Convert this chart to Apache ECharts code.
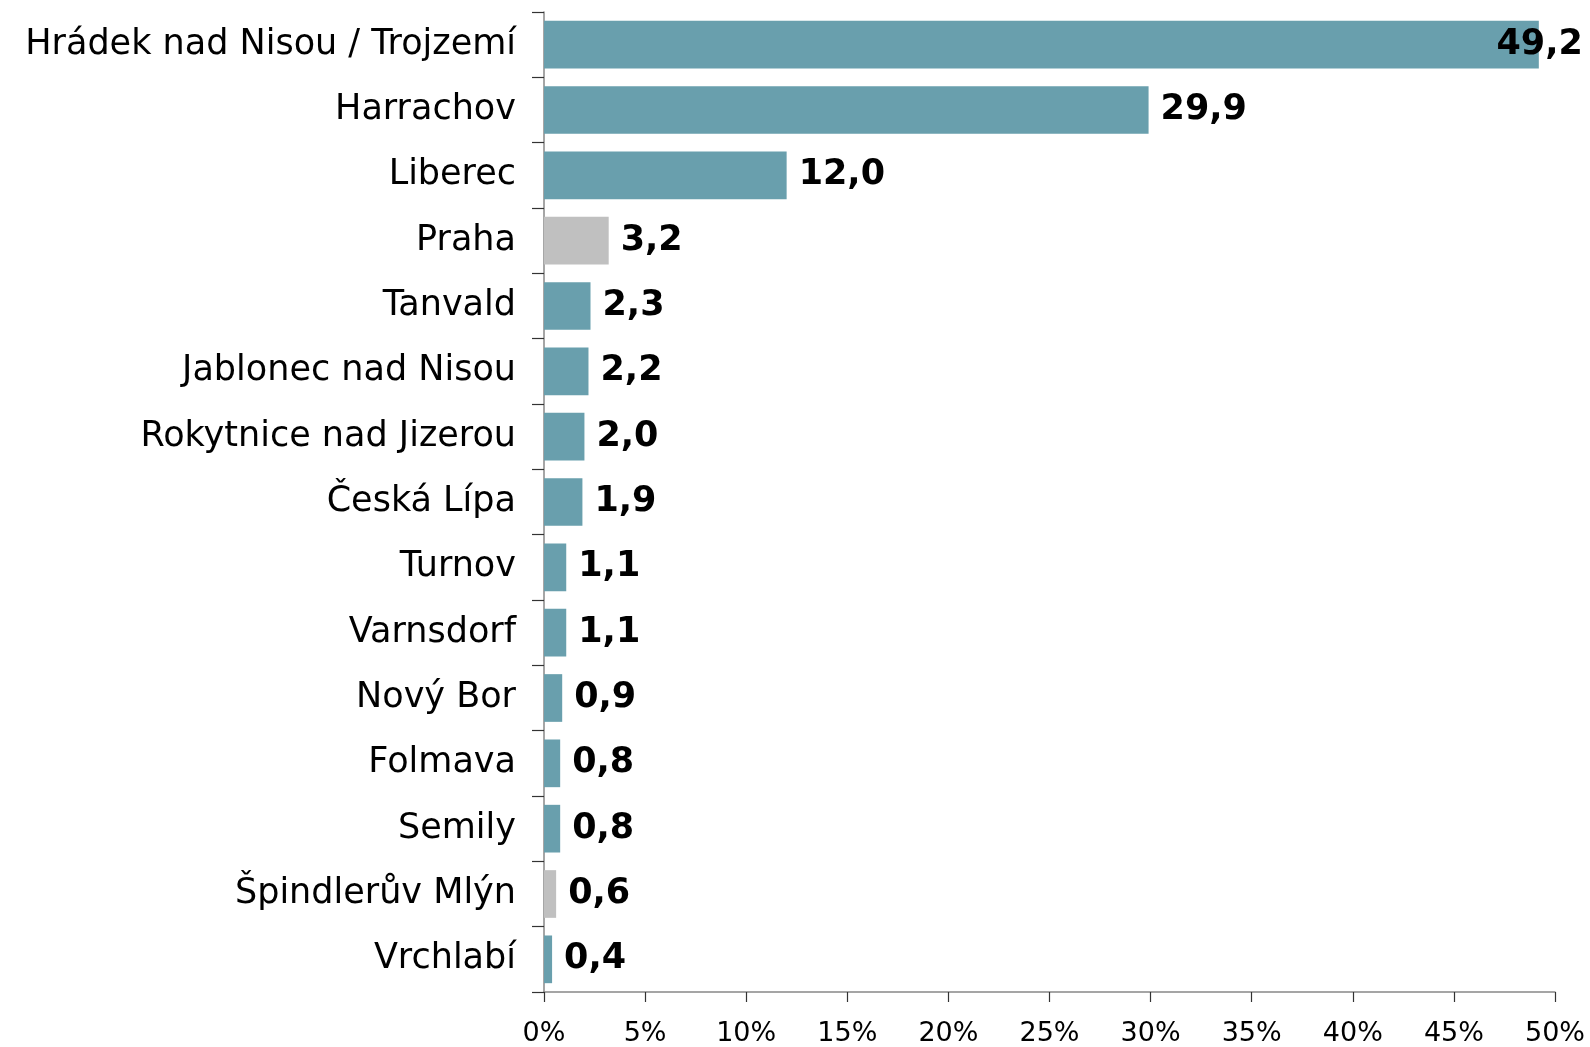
<!DOCTYPE html>
<html>
<head>
<meta charset="utf-8">
<script src="https://cdn.jsdelivr.net/npm/echarts@6/dist/echarts.min.js"></script>
<style>
  html, body { margin: 0; padding: 0; background: #fff; }
  #chart { width: 1590px; height: 1047px; }
</style>
</head>
<body>
<div id="chart"></div>
<script>
// Places, top to bottom
const places = [
  'Hrádek nad Nisou / Trojzemí', 'Harrachov', 'Liberec', 'Praha', 'Tanvald',
  'Jablonec nad Nisou', 'Rokytnice nad Jizerou', 'Česká Lípa', 'Turnov',
  'Varnsdorf', 'Nový Bor', 'Folmava', 'Semily', 'Špindlerův Mlýn', 'Vrchlabí'
];
// Share in percent
const shares = [49.2, 29.9, 12.0, 3.2, 2.3, 2.2, 2.0, 1.9, 1.1, 1.1, 0.9, 0.8, 0.8, 0.6, 0.4];
// Places outside the region, drawn in grey
const outsideRegion = ['Praha', 'Špindlerův Mlýn'];
// X axis range and step, in percent
const axisMax = 50;
const axisStep = 5;

const TEAL = '#699FAD';
const GREY = '#C0C0C0';
const FONT = '"DejaVu Sans", Verdana, sans-serif';

const topValue = Math.max(...shares);
const seriesData = places.map((name, i) => {
  const item = {
    value: shares[i],
    itemStyle: { color: outsideRegion.includes(name) ? GREY : TEAL }
  };
  if (shares[i] === topValue) {
    // the longest bar's label is pulled back so it stays on the canvas
    item.label = { position: 'insideRight', offset: [56, 0] };
  }
  return item;
});

const chart = echarts.init(document.getElementById('chart'), null, { renderer: 'canvas' });
chart.setOption({
  animation: false,
  backgroundColor: '#ffffff',
  grid: { left: 544, right: 35, top: 12, bottom: 54, containLabel: false },
  xAxis: {
    type: 'value',
    min: 0,
    max: axisMax,
    interval: axisStep,
    splitLine: { show: false },
    axisLine: { show: true, lineStyle: { color: '#888888', width: 1.5 } },
    axisTick: { show: true, length: 10, lineStyle: { color: '#333333', width: 1.2 } },
    axisLabel: {
      formatter: v => v + '%',
      fontFamily: FONT,
      fontSize: 27,
      color: '#000',
      margin: 28
    }
  },
  yAxis: {
    type: 'category',
    data: places,
    inverse: true,
    axisLine: { show: true, lineStyle: { color: '#888888', width: 1.5 } },
    axisTick: { show: true, length: 12, alignWithLabel: false, lineStyle: { color: '#333333', width: 1.2 } },
    axisLabel: {
      fontFamily: FONT,
      fontSize: 35,
      color: '#000',
      margin: 28
    }
  },
  series: [{
    type: 'bar',
    data: seriesData,
    barCategoryGap: '27%',
    label: {
      show: true,
      position: 'right',
      distance: 12,
      fontFamily: FONT,
      fontWeight: 'bold',
      fontSize: 35,
      color: '#000',
      formatter: p => p.value.toFixed(1).replace('.', ',')
    }
  }]
});
</script>
</body>
</html>
